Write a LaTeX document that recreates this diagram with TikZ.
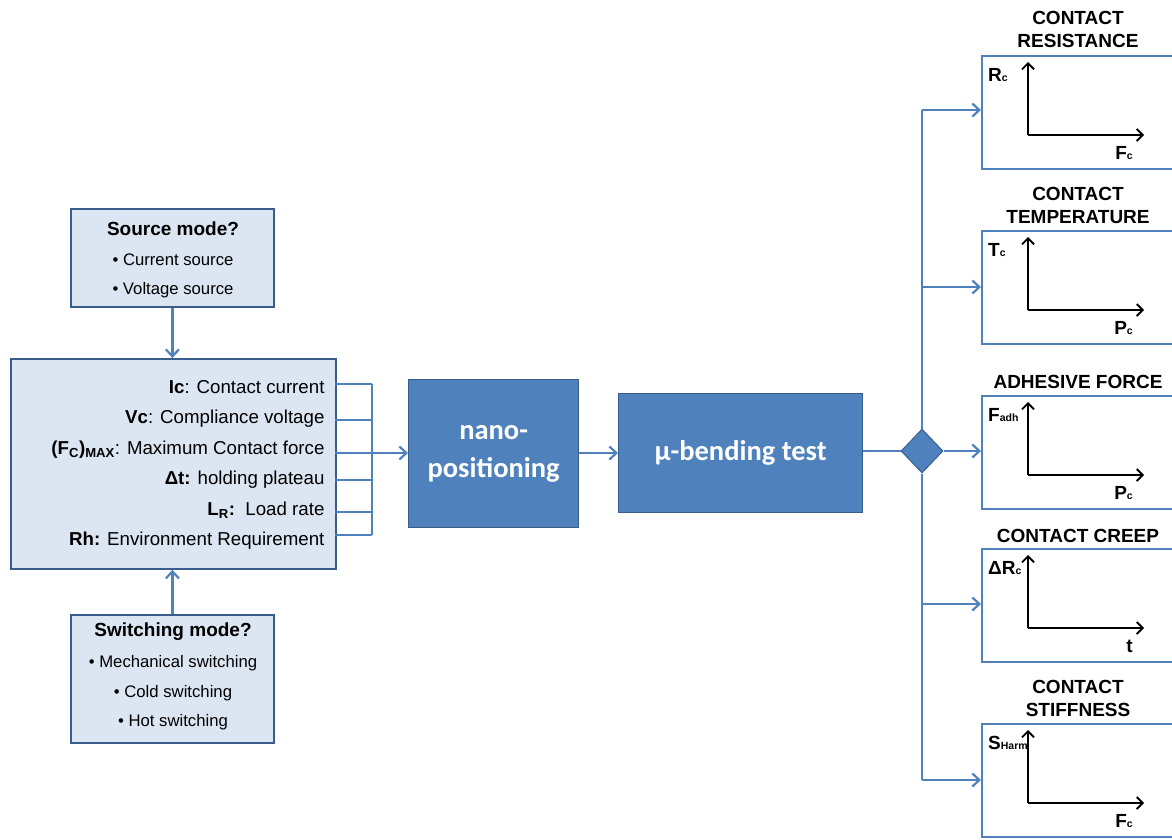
\documentclass[tikz,border=0pt]{standalone}
\usepackage{fontspec}
\setmainfont{Liberation Sans}
\newfontfamily\carlito{Carlito}
\usetikzlibrary{arrows.meta, positioning, shapes.geometric}
\definecolor{boxfill}{HTML}{DCE6F2}
\definecolor{boxline}{HTML}{385D8A}
\definecolor{flowblue}{HTML}{4F81BD}

\begin{document}
\begin{tikzpicture}[x=1pt,y=-1pt]

\tikzset{inbox/.style = {draw=boxline, fill=boxfill, line width=1.8pt, inner sep=0pt, anchor=north west}}
\tikzset{stage/.style = {draw=boxline, fill=flowblue, line width=1.2pt, anchor=north west, text=white, align=center, font=\carlito\bfseries\fontsize{28.5}{38}\selectfont}}
\tikzset{plotbox/.style = {draw=flowblue, line width=2.2pt, minimum width=220pt, minimum height=113pt, anchor=north west}}
\tikzset{flow/.style = {draw=flowblue, line width=2.2pt}}
\tikzset{arr/.style = {flow, -{Straight Barb[length=7pt,width=13pt]}}}
\tikzset{axis/.style = {line width=1.8pt, -{Straight Barb[length=6pt,width=12pt]}}}
\tikzset{head/.style = {font=\bfseries\fontsize{19}{22.5}\selectfont, align=center, anchor=south}}
\tikzset{item/.style = {font=\fontsize{16.7}{19}\selectfont}}
\tikzset{itemhead/.style = {font=\bfseries\fontsize{19}{22}\selectfont}}
\tikzset{param/.style = {anchor=base east, font=\fontsize{18.7}{22}\selectfont}}
\newcommand{\ax}[1]{{\bfseries\fontsize{19}{20}\selectfont #1}}
\newcommand{\sx}[1]{{\bfseries\fontsize{10.5}{12}\selectfont #1}}

\useasboundingbox (0,0) rectangle (1172,839);

% input boxes
\node[inbox, minimum width=203pt, minimum height=98pt] (src) at (70,208) {};
\node[itemhead] (srct) at (173,229) {Source mode?};
\node[item] (src1) at (173,260) {• Current source};
\node[item] (src2) at (173,290) {• Voltage source};

\node[inbox, minimum width=325pt, minimum height=210pt] (main) at (10,358) {};
\node[param] (p1) at (328,393) {\textbf{Ic}: Contact current};
\node[param] (p2) at (328,423) {\textbf{Vc}: Compliance voltage};
\node[param] (p3) at (328,454) {\textbf{(F\textsubscript{C})\textsubscript{MAX}}: Maximum Contact force};
\node[param] (p4) at (328,484) {\textbf{Δt:} holding plateau};
\node[param] (p5) at (328,515) {\textbf{L\textsubscript{R}:}\ \ Load rate};
\node[param] (p6) at (328,545) {\textbf{Rh:} Environment Requirement};

\node[inbox, minimum width=203pt, minimum height=128pt] (sw) at (70,614) {};
\node[itemhead] (swt) at (173,632) {Switching mode?};
\node[item] (sw1) at (173,663) {• Mechanical switching};
\node[item] (sw2) at (173,693) {• Cold switching};
\node[item] (sw3) at (173,722) {• Hot switching};

% stages
\node[stage, minimum width=170pt, minimum height=148pt] (nano) at (408,379) {nano-\\positioning};
\node[stage, minimum width=244pt, minimum height=119pt] (bend) at (618,393) {µ-bending test};
\node[diamond, draw=boxline, fill=flowblue, line width=1pt, minimum width=42pt, minimum height=44pt, inner sep=0pt] (dia) at (922,451) {};

% result boxes
\node[plotbox] (r1) at (981,55) {};
\node[plotbox] (r2) at (981,230) {};
\node[plotbox] (r3) at (981,395) {};
\node[plotbox] (r4) at (981,548) {};
\node[plotbox] (r5) at (981,723) {};
\node[head] at (1078,51) {CONTACT\\RESISTANCE};
\node[head] at (1078,227) {CONTACT\\TEMPERATURE};
\node[head] at (1078,392) {ADHESIVE FORCE};
\node[head] at (1078,546) {CONTACT CREEP};
\node[head] at (1078,720) {CONTACT\\STIFFNESS};

% axes
\foreach \r/\yl/\xl in {r1/{R\sx{c}}/{F\sx{c}}, r2/{T\sx{c}}/{P\sx{c}}, r3/{F\sx{adh}}/{P\sx{c}}, r4/{ΔR\sx{c}}/{t}, r5/{S\sx{Harm}}/{F\sx{c}}} {
  \coordinate (o) at ([xshift=47pt,yshift=-80pt]\r.north west);
  \draw[axis] (o) -- ++(0,-73);
  \draw[axis] (o) -- ++(116,0);
  \node[anchor=west, inner sep=0pt] at ([xshift=7pt,yshift=-20pt]\r.north west) {\ax{\yl}};
  \node[anchor=east, inner sep=1pt] at ([xshift=106pt,yshift=-18pt]o) {\ax{\xl}};
}

% connectors
\draw[arr] (src.south) -- (src.south |- main.north);
\draw[arr] (sw.north) -- (sw.north |- main.south);
\foreach \y in {384,420,453,480,512,535}
  \draw[flow] (335,\y) -- (372,\y);
\draw[flow] (372,384) -- (372,535);
\draw[arr] (372,453) -- (nano.west |- 0,453);
\draw[arr] (nano.east |- 0,453) -- (bend.west |- 0,453);
\draw[flow] (bend.east |- dia) -- (dia.west);
\draw[flow] (dia.north |- 0,110) -- (dia.north);
\draw[flow] (dia.south) -- (dia.south |- 0,780);
\draw[arr] (dia.north |- 0,110) -- (r1.west |- 0,110);
\draw[arr] (dia.north |- 0,287) -- (r2.west |- 0,287);
\draw[arr] (dia.east) -- (r3.west |- dia);
\draw[arr] (dia.south |- 0,604) -- (r4.west |- 0,604);
\draw[arr] (dia.south |- 0,780) -- (r5.west |- 0,780);
\end{tikzpicture}
\end{document}
